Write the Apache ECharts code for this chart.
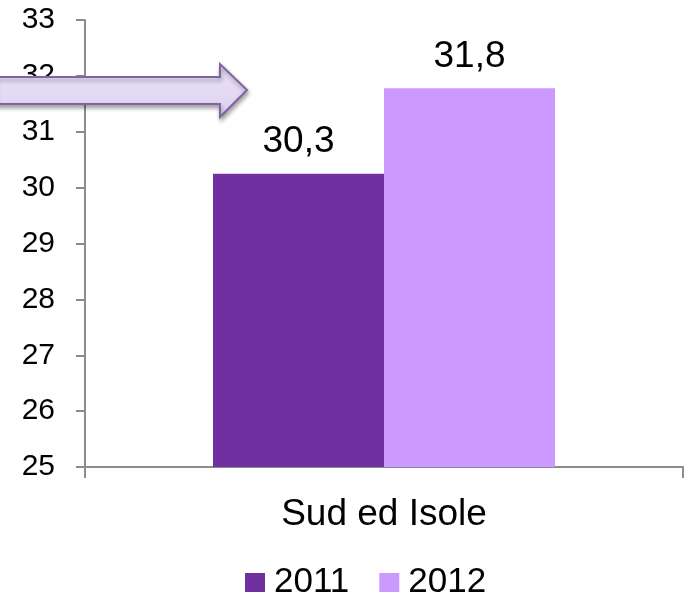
<!DOCTYPE html>
<html>
<head>
<meta charset="utf-8">
<script src="https://cdn.jsdelivr.net/npm/echarts@6/dist/echarts.min.js"></script>
<style>
html,body{margin:0;padding:0;background:#fff;}
#c{width:691px;height:595px;}
</style>
</head>
<body>
<div id="c"></div>
<script>
var categories = ['Sud ed Isole'];
var seriesNames = ['2011', '2012'];
var values2011 = [30.25];
var values2012 = [31.78];
var yMin = 25, yMax = 33, yStep = 1;

var FONT = '"Liberation Sans", Arial, sans-serif';
var chart = echarts.init(document.getElementById('c'), null, {renderer: 'canvas'});

function lbl(p) { return p.value.toFixed(1).replace('.', ','); }

chart.setOption({
  animation: false,
  backgroundColor: '#ffffff',
  grid: {left: 85, right: 8, top: 20, bottom: 128, containLabel: false},
  xAxis: {
    type: 'category',
    data: categories,
    boundaryGap: true,
    axisLine: {lineStyle: {color: '#8c8c8c', width: 2}},
    axisTick: {show: true, length: 11, lineStyle: {color: '#8c8c8c', width: 2}},
    axisLabel: {color: '#000', fontFamily: FONT, fontSize: 37, margin: 29}
  },
  yAxis: {
    type: 'value',
    min: yMin, max: yMax, interval: yStep,
    axisLine: {show: true, lineStyle: {color: '#8c8c8c', width: 2}},
    axisTick: {show: true, length: 9, lineStyle: {color: '#8c8c8c', width: 2}},
    splitLine: {show: false},
    axisLabel: {color: '#000', fontFamily: FONT, fontSize: 30, margin: 30}
  },
  legend: {
    top: 560,
    left: 240,
    itemWidth: 20, itemHeight: 19, itemGap: 30,
    icon: 'rect',
    textStyle: {color: '#000', fontFamily: FONT, fontSize: 35, padding: [0,0,0,4]},
    data: seriesNames
  },
  series: [
    {name: seriesNames[0], type: 'bar', data: values2011, barWidth: 171, barGap: '0%',
     itemStyle: {color: '#7030A0'},
     label: {show: true, position: 'top', distance: 13, formatter: lbl, color: '#000', fontFamily: FONT, fontSize: 37}},
    {name: seriesNames[1], type: 'bar', data: values2012, barWidth: 171, barGap: '0%',
     itemStyle: {color: '#CC99FF'},
     label: {show: true, position: 'top', distance: 13, formatter: lbl, color: '#000', fontFamily: FONT, fontSize: 37}}
  ],
  graphic: [{
    type: 'polygon',
    z: 100,
    shape: {points: [[-5,77],[220,77],[220,64],[247,90],[220,117],[220,104],[-5,104]]},
    style: {
      fill: new echarts.graphic.LinearGradient(0,0,0,1,[{offset:0,color:'#ebe4f7'},{offset:1,color:'#dcd1ef'}]),
      stroke: '#8064A2', lineWidth: 2,
      shadowBlur: 4, shadowOffsetY: 3, shadowOffsetX: 1, shadowColor: 'rgba(0,0,0,0.35)'
    }
  }]
});
</script>
</body>
</html>
